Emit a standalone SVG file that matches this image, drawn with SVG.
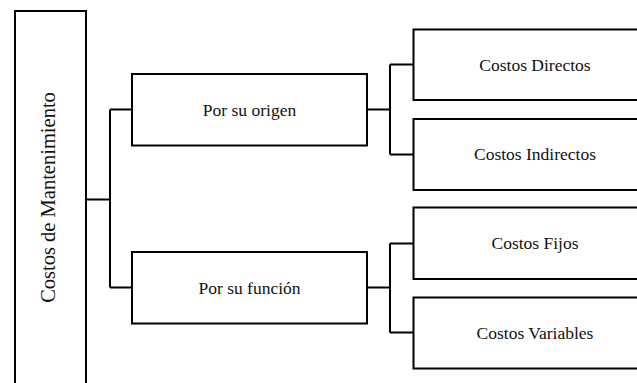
<svg xmlns="http://www.w3.org/2000/svg" width="637" height="383" viewBox="0 0 637 383">
<style>
.box{fill:#fff;stroke:#000;stroke-width:2}
.lbl{font-family:"Liberation Serif","Times New Roman",serif;font-size:17.5px;fill:#111;text-anchor:middle}
.conn{fill:none;stroke:#000;stroke-width:2}
</style>
<rect width="637" height="383" fill="#fff"/>
<g id="connectors">
<path class="conn" d="M86 199.5 H110 M110 109.5 V287.5 M110 109.5 H132 M110 287.5 H132"/>
<path class="conn" d="M367 109.5 H390 M390 64.5 V154.5 M390 64.5 H413.5 M390 154.5 H413.5"/>
<path class="conn" d="M367 287.5 H390 M390 243.5 V332.5 M390 243.5 H413.5 M390 332.5 H413.5"/>
</g>
<g id="root">
<rect class="box" x="15" y="11" width="71" height="400"/>
<text class="lbl" transform="translate(55,197.5) rotate(-90)" x="0" y="0" style="font-size:20.5px">Costos de Mantenimiento</text>
</g>
<g id="origen">
<rect class="box" x="132" y="74" width="235" height="71.5"/>
<text class="lbl" x="249.5" y="115.5">Por su origen</text>
</g>
<g id="funcion">
<rect class="box" x="132" y="252" width="235" height="71.5"/>
<text class="lbl" x="249.5" y="293.5">Por su función</text>
</g>
<g id="directos">
<rect class="box" x="413.5" y="29.5" width="244" height="70.5"/>
<text class="lbl" x="535" y="70.5">Costos Directos</text>
</g>
<g id="indirectos">
<rect class="box" x="413.5" y="119" width="244" height="71"/>
<text class="lbl" x="535" y="160">Costos Indirectos</text>
</g>
<g id="fijos">
<rect class="box" x="413.5" y="207.5" width="244" height="71.5"/>
<text class="lbl" x="535" y="249">Costos Fijos</text>
</g>
<g id="variables">
<rect class="box" x="413.5" y="297.5" width="244" height="71"/>
<text class="lbl" x="535" y="338.5">Costos Variables</text>
</g>
</svg>
